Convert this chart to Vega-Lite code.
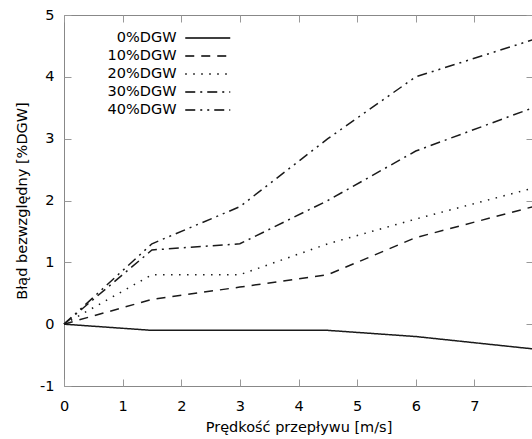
{
  "$schema": "https://vega.github.io/schema/vega-lite/v6.json",
  "width": 469,
  "height": 371,
  "autosize": "none",
  "padding": {"left": 64, "top": 15, "right": 0, "bottom": 53},
  "config": {
    "font": "DejaVu Sans",
    "view": {"stroke": "#888", "strokeWidth": 1},
    "axis": {
      "grid": false,
      "domain": false,
      "tickColor": "#999",
      "tickSize": 7,
      "offset": -7,
      "labelFontSize": 14.5,
      "labelColor": "#000",
      "labelFlush": false,
      "labelExpr": "replace(datum.label, '−', '-')",
      "titleFontSize": 14.5,
      "titleFontWeight": "normal",
      "titleColor": "#000"
    }
  },
  "data": {
    "values": [
      {"v": 0, "e": 0, "s": "0%DGW"},
      {"v": 1.5, "e": -0.1, "s": "0%DGW"},
      {"v": 3, "e": -0.1, "s": "0%DGW"},
      {"v": 4.5, "e": -0.1, "s": "0%DGW"},
      {"v": 6, "e": -0.2, "s": "0%DGW"},
      {"v": 8, "e": -0.4, "s": "0%DGW"},
      {"v": 0, "e": 0, "s": "10%DGW"},
      {"v": 1.5, "e": 0.4, "s": "10%DGW"},
      {"v": 3, "e": 0.6, "s": "10%DGW"},
      {"v": 4.5, "e": 0.8, "s": "10%DGW"},
      {"v": 6, "e": 1.4, "s": "10%DGW"},
      {"v": 8, "e": 1.9, "s": "10%DGW"},
      {"v": 0, "e": 0, "s": "20%DGW"},
      {"v": 1.5, "e": 0.8, "s": "20%DGW"},
      {"v": 3, "e": 0.8, "s": "20%DGW"},
      {"v": 4.5, "e": 1.3, "s": "20%DGW"},
      {"v": 6, "e": 1.7, "s": "20%DGW"},
      {"v": 8, "e": 2.2, "s": "20%DGW"},
      {"v": 0, "e": 0, "s": "30%DGW"},
      {"v": 1.5, "e": 1.2, "s": "30%DGW"},
      {"v": 3, "e": 1.3, "s": "30%DGW"},
      {"v": 4.5, "e": 2.0, "s": "30%DGW"},
      {"v": 6, "e": 2.8, "s": "30%DGW"},
      {"v": 8, "e": 3.5, "s": "30%DGW"},
      {"v": 0, "e": 0, "s": "40%DGW"},
      {"v": 1.5, "e": 1.3, "s": "40%DGW"},
      {"v": 3, "e": 1.9, "s": "40%DGW"},
      {"v": 4.5, "e": 3.0, "s": "40%DGW"},
      {"v": 6, "e": 4.0, "s": "40%DGW"},
      {"v": 8, "e": 4.6, "s": "40%DGW"}
    ]
  },
  "layer": [
    {
      "mark": {"type": "point", "size": 0, "opacity": 0},
      "encoding": {
        "x": {"field": "v", "type": "quantitative", "scale": {"domain": [0, 8], "nice": false}, "axis": {"orient": "top", "values": [0, 1, 2, 3, 4, 5, 6, 7], "labels": false, "title": null}},
        "y": {"field": "e", "type": "quantitative", "scale": {"domain": [-1, 5], "nice": false}, "axis": {"orient": "right", "values": [-1, 0, 1, 2, 3, 4, 5], "labels": false, "title": null}}
      }
    },
    {
      "mark": {"type": "line", "strokeWidth": 1.5, "color": "#1a1a1a"},
      "encoding": {
        "x": {
          "field": "v", "type": "quantitative",
          "axis": {"orient": "bottom", "values": [0, 1, 2, 3, 4, 5, 6, 7], "title": "Prędkość przepływu [m/s]", "labelPadding": 13, "titlePadding": 8}
        },
        "y": {
          "field": "e", "type": "quantitative",
          "axis": {"orient": "left", "values": [-1, 0, 1, 2, 3, 4, 5], "title": "Błąd bezwzględny [%DGW]", "labelPadding": 10, "titlePadding": 10}
        },
        "strokeDash": {
          "field": "s", "type": "nominal",
          "scale": {
            "domain": ["0%DGW", "10%DGW", "20%DGW", "30%DGW", "40%DGW"],
            "range": [[1, 0], [9, 7], [1.5, 6.5], [10, 5, 2, 5], [10, 5, 2, 5, 2, 5]]
          },
          "legend": {
            "orient": "none", "legendX": 134.75, "legendY": 14,
            "title": null,
            "symbolType": "M-2.8125,0H2.8125",
            "symbolSize": 256,
            "symbolStrokeWidth": 1.5,
            "symbolStrokeColor": "#000",
            "symbolFillColor": "transparent",
            "labelFontSize": 14.5,
            "labelColor": "#000",
            "labelAlign": "right",
            "labelOffset": -40.25,
            "rowPadding": 2
          }
        }
      }
    }
  ],
  "resolve": {"axis": {"x": "independent", "y": "independent"}}
}
